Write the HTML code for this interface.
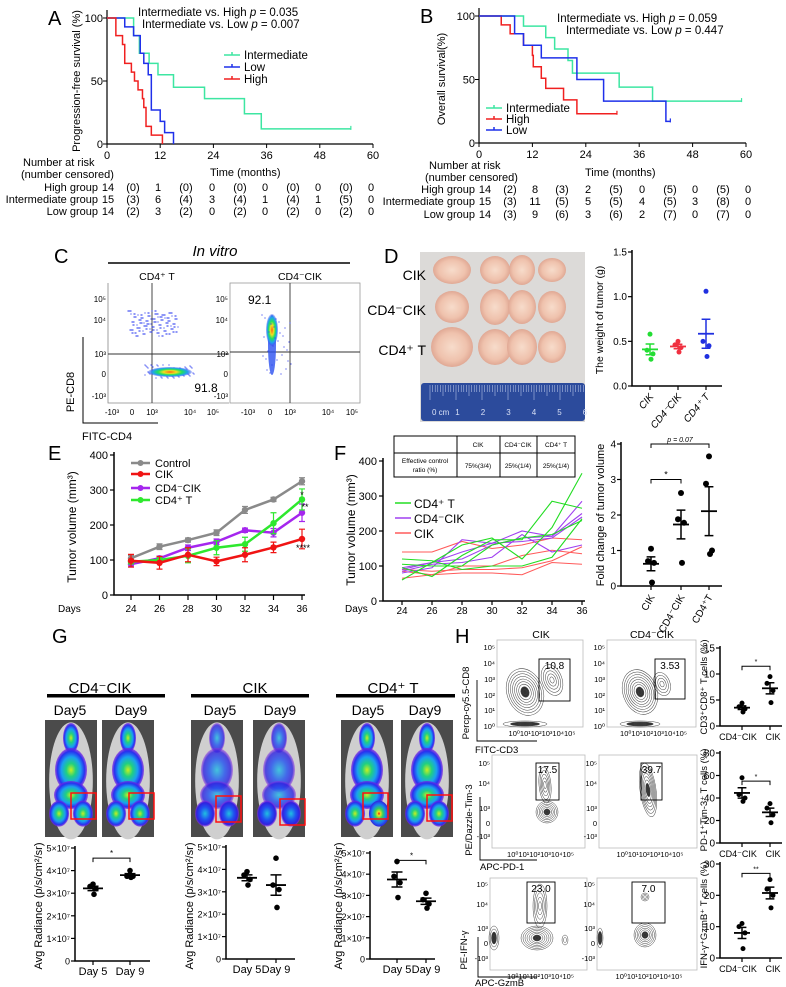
<!DOCTYPE html>
<html><head><meta charset="utf-8">
<style>
html,body{margin:0;padding:0;background:#fff;}
svg{display:block;font-family:"Liberation Sans",Arial,sans-serif;}
</style></head>
<body>
<svg id="fig" width="786" height="987" viewBox="0 0 786 987" xmlns="http://www.w3.org/2000/svg">
<defs>
<radialGradient id="heat"><stop offset="0" stop-color="#c8f020"/><stop offset="0.3" stop-color="#20d080"/><stop offset="0.6" stop-color="#1aa0f0"/><stop offset="0.85" stop-color="#2830f0"/><stop offset="1" stop-color="#7a20e0" stop-opacity="0.7"/></radialGradient>
<radialGradient id="heatlow"><stop offset="0" stop-color="#20c0e0"/><stop offset="0.5" stop-color="#2050f0"/><stop offset="0.85" stop-color="#3020e0"/><stop offset="1" stop-color="#9030e0" stop-opacity="0.6"/></radialGradient>
<radialGradient id="heathot"><stop offset="0" stop-color="#f01010"/><stop offset="0.15" stop-color="#f0e020"/><stop offset="0.4" stop-color="#30d060"/><stop offset="0.7" stop-color="#1a80f0"/><stop offset="1" stop-color="#3020e0"/></radialGradient>
<radialGradient id="flow1"><stop offset="0" stop-color="#ff6010"/><stop offset="0.3" stop-color="#f0e020"/><stop offset="0.55" stop-color="#20e060"/><stop offset="0.8" stop-color="#20a0f0"/><stop offset="1" stop-color="#3040f0" stop-opacity="0.3"/></radialGradient>
<radialGradient id="tumor"><stop offset="0" stop-color="#f7dccb"/><stop offset="0.7" stop-color="#efc2ad"/><stop offset="1" stop-color="#e0a894"/></radialGradient>
</defs>

<g font-size="20">
<text x="48" y="25">A</text>
<text x="420" y="23">B</text>
<text x="54" y="263">C</text>
<text x="384" y="263">D</text>
<text x="48" y="460">E</text>
<text x="334" y="460">F</text>
<text x="52" y="643">G</text>
<text x="455" y="643">H</text>
</g>

<text x="138" y="16" font-size="11.5">Intermediate vs. High <tspan font-style="italic">p</tspan> = 0.035</text>
<text x="142" y="28" font-size="11.5">Intermediate vs. Low <tspan font-style="italic">p</tspan> = 0.007</text>
<text transform="translate(80,81) rotate(-90)" text-anchor="middle" font-size="11">Progression-free survival (%)</text>
<text x="210" y="176" font-size="11">Time (months)</text>
<text x="23" y="166" font-size="11">Number at risk</text>
<text x="21" y="178" font-size="11">(number censored)</text>

<text x="557" y="22" font-size="11.5">Intermediate vs. High <tspan font-style="italic">p</tspan> = 0.059</text>
<text x="566" y="34" font-size="11.5">Intermediate vs. Low <tspan font-style="italic">p</tspan> = 0.447</text>
<text transform="translate(445,79) rotate(-90)" text-anchor="middle" font-size="11">Overall survival(%)</text>
<text x="585" y="176" font-size="11">Time (months)</text>
<text x="429" y="169" font-size="11">Number at risk</text>
<text x="425" y="181" font-size="11">(number censored)</text>

<text x="215" y="256" text-anchor="middle" font-size="15" font-style="italic">In vitro</text>
<line x1="108" y1="263" x2="350" y2="263" stroke="#000" stroke-width="1.5"/>
<text x="157" y="280" text-anchor="middle" font-size="10.5">CD4⁺ T</text>
<text x="300" y="280" text-anchor="middle" font-size="10.5">CD4⁻CIK</text>
<text transform="translate(74,392) rotate(-90)" text-anchor="middle" font-size="11">PE-CD8</text>
<path d="M83 337 V423 H158" fill="none" stroke="#000" stroke-width="1"/>
<text x="82" y="440" font-size="11">FITC-CD4</text>
<g id="panelC"></g>

<g id="panelD"></g>
<text transform="translate(603,320) rotate(-90)" text-anchor="middle" font-size="10.5">The weight of tumor (g)</text>

<text transform="translate(76,527) rotate(-90)" text-anchor="middle" font-size="12">Tumor volume (mm³)</text>
<text x="58" y="612" font-size="10">Days</text>
<g id="panelE"></g>

<text transform="translate(355,530) rotate(-90)" text-anchor="middle" font-size="12">Tumor volume (mm³)</text>
<text x="345" y="612" font-size="10">Days</text>
<g font-size="6.5" text-anchor="middle">
<rect x="394" y="436" width="181" height="41" fill="#fff" stroke="#000" stroke-width="1"/>
<line x1="394" y1="453" x2="575" y2="453" stroke="#000"/>
<line x1="457" y1="436" x2="457" y2="477" stroke="#000"/>
<line x1="500" y1="436" x2="500" y2="477" stroke="#000"/>
<line x1="537" y1="436" x2="537" y2="477" stroke="#000"/>
<text x="478" y="447">CIK</text>
<text x="518" y="447">CD4⁻CIK</text>
<text x="556" y="447">CD4⁺ T</text>
<text x="425" y="463">Effective control</text>
<text x="425" y="472">ratio (%)</text>
<text x="478" y="468">75%(3/4)</text>
<text x="518" y="468">25%(1/4)</text>
<text x="556" y="468">25%(1/4)</text>
</g>
<g id="panelF"></g>
<text transform="translate(604,515) rotate(-90)" text-anchor="middle" font-size="11">Fold change of tumor volume</text>

<g id="panelG"></g>
<g id="panelH"></g>
</svg>

<script>
const kmA_int_t=[0,6,7.3,9.5,11.5,15,22,31,34.8,55];
const kmA_int_s=[100,86,72,64,55,45,36,24,12,12];
const kmA_low_t=[0,4,6,7.5,8.3,9.3,10,12,13,15];
const kmA_low_s=[100,93,86,72,64,55,27,18,9,0];
const kmA_high_t=[0,2,3.5,4,5.5,6.2,7,8,8.3,8.8,10,12.5];
const kmA_high_s=[100,86,79,64,57,50,43,36,29,14,7,0];
const kmB_int_t=[0,10,15,17,20,21,31.5,39,59];
const kmB_int_s=[100,92,83,74,65,55,44,33,33];
const kmB_high_t=[0,5,7,10,12,12.2,14,15,19,22,31];
const kmB_high_s=[100,93,86,77,69,60,51,43,34,23,23];
const kmB_low_t=[0,8,10,14,22,28,42,43];
const kmB_low_s=[100,86,77,67,50,33,17,17];
const kmTicks=[0,12,24,36,48,60];
const survTicks=[0,50,100];
const riskA_high=['14','(0)','1','(0)','0','(0)','0','(0)','0','(0)','0'];
const riskA_int=['15','(3)','6','(4)','3','(4)','1','(4)','1','(5)','0'];
const riskA_low=['14','(2)','3','(2)','0','(2)','0','(2)','0','(2)','0'];
const riskB_high=['14','(2)','8','(3)','2','(5)','0','(5)','0','(5)','0'];
const riskB_int=['15','(3)','11','(5)','5','(5)','4','(5)','3','(8)','0'];
const riskB_low=['14','(3)','9','(6)','3','(6)','2','(7)','0','(7)','0'];
const riskLabels=['High group','Intermediate group','Low group'];
const dW_cik=[0.58,0.40,0.36,0.30];
const dW_cd4cik=[0.50,0.46,0.43,0.38];
const dW_cd4t=[1.06,0.50,0.45,0.33];
const eDays=[24,26,28,30,32,34,36];
const eControl=[105,138,157,178,243,273,325];
const eControlErr=[8,8,6,8,10,6,10];
const eCIK=[98,92,115,96,115,136,160];
const eCIKErr=[18,18,20,12,20,15,28];
const eCD4CIK=[88,105,135,152,185,178,235];
const eCD4CIKErr=[8,6,8,8,6,12,25];
const eCD4T=[95,100,112,135,145,205,273];
const eCD4TErr=[6,6,20,20,20,30,30];
const eTicks=[0,100,200,300,400];
const fDays=[24,26,28,30,32,34,36];
const fGreen1=[120,115,90,100,100,125,235];
const fGreen2=[95,70,130,175,175,285,265];
const fGreen3=[60,110,160,180,120,210,365];
const fGreen4=[105,100,100,160,180,190,230];
const fPurple1=[80,95,175,165,200,185,285];
const fPurple2=[90,110,120,160,180,185,250];
const fPurple3=[85,105,110,125,190,140,160];
const fPurple4=[95,110,140,165,170,180,240];
const fRed1=[140,140,170,150,160,180,175];
const fRed2=[85,75,100,100,130,145,135];
const fRed3=[65,75,80,80,75,110,105];
const fRed4=[90,85,90,90,95,115,155];
const fc_cik=[1.05,0.7,0.65,0.1];
const fc_cd4cik=[2.62,1.88,1.78,0.65];
const fc_cd4t=[3.65,2.88,1.0,0.9];
const g1_d5=[3.4,3.3,3.2,2.95];
const g1_d9=[4.0,3.75,3.75,3.7];
const g2_d5=[3.9,3.75,3.55,3.3];
const g2_d9=[4.5,3.3,3.1,2.3];
const g3_d5=[4.6,3.9,3.6,2.9];
const g3_d9=[3.1,2.8,2.6,2.4];
const gTickLabels=['0','1×10⁷','2×10⁷','3×10⁷','4×10⁷','5×10⁷'];
const h1_cd4cik=[4.4,3.7,3.3,2.7];
const h1_cik=[9.5,8.2,6.8,4.5];
const h2_cd4cik=[58,43,40,37];
const h2_cik=[35,31,25,18];
const h3_cd4cik=[11,10,8,3];
const h3_cik=[25,22,20,16];

const NS='http://www.w3.org/2000/svg';
const svg=document.getElementById('fig');
function mk(tag,a,p){const e=document.createElementNS(NS,tag);for(const k in a)e.setAttribute(k,a[k]);(p||svg).appendChild(e);return e;}
function tx(x,y,s,a,p){const e=mk('text',Object.assign({x:x,y:y},a||{}),p);e.textContent=s;return e;}
function lin(d0,d1,r0,r1){return v=>r0+(v-d0)*(r1-r0)/(d1-d0);}
function mean(a){return a.reduce((s,v)=>s+v,0)/a.length;}
function sem(a){const m=mean(a);return Math.sqrt(a.reduce((s,v)=>s+(v-m)*(v-m),0)/(a.length-1))/Math.sqrt(a.length);}

function kmPanel(id,x0,x1,yTop,yBot,series,legendY,legendX){
  const g=mk('g',{});
  
  
  const xs=lin(0,60,x0,x1), ys=lin(0,100,yBot,yTop);
  const ax=mk('path',{d:`M${x0} ${yTop-8} V${yBot} H${x1}`,fill:'none',stroke:'#000','stroke-width':1.2},g);
  
  
  kmTicks.forEach(t=>{
    const tk=mk('line',{x1:xs(t),x2:xs(t),y1:yBot,y2:yBot+4,stroke:'#000'},g);
    
    
    const lb=tx(xs(t),yBot+15,String(t),{'text-anchor':'middle','font-size':11},g);
    
    
  });
  survTicks.forEach(v=>{
    const tk=mk('line',{x1:x0-4,x2:x0,y1:ys(v),y2:ys(v),stroke:'#000'},g);
    
    
    const lb=tx(x0-4,ys(v)+4,String(v),{'text-anchor':'end','font-size':11},g);
    
    
  });
  series.forEach((s,i)=>{
    let d=`M${xs(s.t[0])} ${ys(s.s[0])}`;
    for(let k=1;k<s.t.length;k++){d+=` H${xs(s.t[k])} V${ys(s.s[k])}`;}
    const p=mk('path',{d:d,fill:'none',stroke:s.c,'stroke-width':1.5},g);
    
    
    const last=s.t.length-1;
    if(s.s[last]>0){
      const cz=mk('line',{x1:xs(s.t[last]),x2:xs(s.t[last]),y1:ys(s.s[last])-3,y2:ys(s.s[last])+1,stroke:s.c,'stroke-width':1.2},g);
      
      
    }
    const ly=legendY[i];
    const ll=mk('path',{d:`M${legendX} ${ly} H${legendX+16} M${legendX+8} ${ly-3} V${ly}`,stroke:s.c,'stroke-width':1.5,fill:'none'},g);
    
    
    const lt=tx(legendX+20,ly+4,s.n,{'font-size':11.5},g);
    
    
  });
}
kmPanel('a',107,373,18,144,[
  {t:kmA_int_t,s:kmA_int_s,c:'#3de6a2',n:'Intermediate'},
  {t:kmA_low_t,s:kmA_low_s,c:'#1f30ea',n:'Low'},
  {t:kmA_high_t,s:kmA_high_s,c:'#f02020',n:'High'}],[55,67,79],224);
kmPanel('b',479,746,16,143,[
  {t:kmB_int_t,s:kmB_int_s,c:'#3de6a2',n:'Intermediate'},
  {t:kmB_high_t,s:kmB_high_s,c:'#f02020',n:'High'},
  {t:kmB_low_t,s:kmB_low_s,c:'#1f30ea',n:'Low'}],[108,119,130],486);

function riskTable(id,labEnd,cols,rowsY,rows){
  rows.forEach((r,ri)=>{
    const lb=tx(labEnd,rowsY[ri],riskLabels[ri],{'text-anchor':'end','font-size':11});
    
    
    r.forEach((v,ci)=>{
      const c=tx(cols[ci],rowsY[ri],v,{'text-anchor':'middle','font-size':11});
      
      
    });
  });
}
riskTable('a',98,[108,133,158,186,212,240,265,293,318,346,371],[191,203,215],[riskA_high,riskA_int,riskA_low]);
riskTable('b',475,[485,510,535,562,588,616,642,670,695,723,748],[193,205,218],[riskB_high,riskB_int,riskB_low]);

(function(){
  const g=document.getElementById('panelC');
  const f1=mk('path',{d:'M108 283 V403 H229',fill:'none',stroke:'#888','stroke-width':0.8},g);
  
  
  const f2=mk('rect',{x:230,y:283,width:130,height:120,fill:'none',stroke:'#999','stroke-width':0.8},g);
  
  
  const gates=[[152,283,152,403],[108,354,229,354],[290,283,290,403],[230,352,360,352]];
  gates.forEach(q=>{
    const l=mk('line',{x1:q[0],y1:q[1],x2:q[2],y2:q[3],stroke:'#333','stroke-width':0.9},g);
    
    
  });
  for(let i=0;i<160;i++){
    const d=mk('circle',{cx:128+((i*37)%48)+((i*7)%5),cy:311+((i*53)%24)+((i*11)%3),r:0.6,fill:'#3040f0'},g);
    
    
  }
  for(let i=0;i<60;i++){
    const d=mk('circle',{cx:145+((i*29)%50),cy:365+((i*17)%14),r:0.6,fill:'#3040f0'},g);
    
    
  }
  const b1=mk('ellipse',{cx:170,cy:372,rx:22,ry:5,fill:'url(#flow1)'},g);
  
  
  const b2=mk('ellipse',{cx:272,cy:345,rx:4,ry:30,fill:'#2a50f0',opacity:0.8},g);
  
  
  const b3=mk('ellipse',{cx:272,cy:330,rx:6,ry:16,fill:'url(#flow1)'},g);
  
  
  for(let i=0;i<30;i++){
    const d=mk('circle',{cx:262+((i*13)%30),cy:315+((i*23)%60),r:0.6,fill:'#3040f0'},g);
    
    
  }
  const t1=tx(206,392,'91.8',{'text-anchor':'middle','font-size':12},g);
  
  
  const t2=tx(248,304,'92.1',{'font-size':12},g);
  
  
  const yl=[['10⁵',299],['10⁴',320],['10³',354],['0',374],['-10³',396]];
  [[106,yl],[228,yl]].forEach(p=>{
    p[1].forEach(t=>{
      const e=tx(p[0],t[1]+3,t[0],{'text-anchor':'end','font-size':8},g);
      
      
    });
  });
  const xl=['-10³','0','10³','10⁴','10⁵'];
  [[112,132,152,190,213],[248,270,290,328,352]].forEach(xsArr=>{
    xsArr.forEach((x,i)=>{
      const e=tx(x,415,xl[i],{'text-anchor':'middle','font-size':8},g);
      
      
    });
  });
})();

function dotChart(o){
  const g=mk('g',{},o.parent);
  
  
  const ys=lin(o.vmin,o.vmax,o.y0,o.y1);
  const ax=mk('path',{d:`M${o.x0} ${o.y1-2} V${o.y0} H${o.x1}`,fill:'none',stroke:'#000','stroke-width':1.5},g);
  
  
  o.ticks.forEach((v,i)=>{
    const tk=mk('line',{x1:o.x0-4,x2:o.x0,y1:ys(v),y2:ys(v),stroke:'#000','stroke-width':1.2},g);
    
    
    const lb=tx(o.x0-5,ys(v)+3.5,o.tickLabels[i],{'text-anchor':'end','font-size':o.fs||10},g);
    
    
  });
  const jit=[0,-3,3,1];
  o.cats.forEach(c=>{
    const tk=mk('line',{x1:c.x,x2:c.x,y1:o.y0,y2:o.y0+4,stroke:'#000','stroke-width':1.2},g);
    
    
    c.vals.forEach((v,i)=>{
      const d=mk('circle',{cx:c.x+jit[i],cy:ys(v),r:o.r||2.8,fill:c.color},g);
      
      
    });
    const m=mean(c.vals),s=sem(c.vals),w=o.mw||9;
    const ml=mk('line',{x1:c.x-w,x2:c.x+w,y1:ys(m),y2:ys(m),stroke:c.color,'stroke-width':1.8},g);
    
    
    const el=mk('path',{d:`M${c.x} ${ys(m+s)} V${ys(m-s)} M${c.x-w*0.55} ${ys(m+s)} H${c.x+w*0.55} M${c.x-w*0.55} ${ys(m-s)} H${c.x+w*0.55}`,stroke:c.color,'stroke-width':1.5,fill:'none'},g);
    
    
    if(o.rot){
      const lb=tx(c.x+4,o.y0+11,c.label,{'text-anchor':'end','font-size':o.lfs||10,transform:`rotate(${o.rot} ${c.x+4} ${o.y0+11})`,'font-style':o.italic?'italic':'normal'},g);
      
      
    } else {
      const lb=tx(c.x+(c.lx||0),o.y0+14,c.label,{'text-anchor':'middle','font-size':o.lfs||10},g);
      
      
    }
  });
  if(o.brackets){o.brackets.forEach(b=>{
    const y=ys(b.v);
    const p=mk('path',{d:`M${o.cats[b.a].x} ${y+4} V${y} H${o.cats[b.b].x} V${y+4}`,fill:'none',stroke:'#000','stroke-width':1},g);
    
    
    const t=tx((o.cats[b.a].x+o.cats[b.b].x)/2,y-2,b.t,{'text-anchor':'middle','font-size':b.fs||8,'font-style':b.it?'italic':'normal'},g);
    
    
  });}
  return g;
}

(function(){
  const g=document.getElementById('panelD');
  const ph=mk('rect',{x:420,y:252,width:165,height:170,fill:'#dcdad8'},g);
  
  
  const rows=[270,307,347], cols=[452,495,522,552];
  const rx=[[19,15,13,14],[17,15,14,14],[21,17,15,14]], ry=[[14,14,15,12],[16,18,17,16],[20,18,18,16]];
  rows.forEach((y,ri)=>cols.forEach((x,ci)=>{
    const t=mk('ellipse',{cx:x,cy:y,rx:rx[ri][ci],ry:ry[ri][ci],fill:'url(#tumor)'},g);
    
    
  }));
  const ru=mk('rect',{x:421,y:383,width:164,height:38,rx:3,fill:'#2c4b9c'},g);
  
  
  for(let i=0;i<60;i++){
    const tk=mk('line',{x1:430+i*2.6,x2:430+i*2.6,y1:385,y2:i%10==0?400:(i%5==0?396:392),stroke:'#c8d4f0','stroke-width':0.5},g);
    
    
  }
  ['0 cm','1','2','3','4','5','6'].forEach((s,i)=>{
    const t=tx(432+i*25.5,415,s,{'font-size':8,fill:'#d8e0f6','text-anchor':i==0?'start':'middle'},g);
    
    
  });
  [['CIK',280],['CD4⁻CIK',315],['CD4⁺ T',355]].forEach(l=>{
    const t=tx(426,l[1],l[0],{'text-anchor':'end','font-size':14},g);
    
    
  });
  dotChart({parent:g,name:'tumor-weight-chart',x0:632,x1:722,y0:386,y1:252,vmin:0,vmax:1.5,
    ticks:[0,0.5,1,1.5],tickLabels:['0.0','0.5','1.0','1.5'],rot:-50,italic:true,lfs:10,mw:8,r:2.5,
    cats:[{x:650,vals:dW_cik,color:'#22dd33',key:'cik',label:'CIK'},
          {x:678,vals:dW_cd4cik,color:'#f03040',key:'cd4-cik',label:'CD4⁻CIK'},
          {x:706,vals:dW_cd4t,color:'#2030e0',key:'cd4t',label:'CD4⁺ T'}]});
})();

(function(){
  const g=document.getElementById('panelE');
  const xs=lin(24,36,131,302), ys=lin(0,400,595,455);
  const ax=mk('path',{d:'M114 452 V595 H305',fill:'none',stroke:'#000','stroke-width':1.5},g);
  
  
  eTicks.forEach(v=>{
    const tk=mk('line',{x1:110,x2:114,y1:ys(v),y2:ys(v),stroke:'#000','stroke-width':1.2},g);
    
    
    const lb=tx(108,ys(v)+4,String(v),{'text-anchor':'end','font-size':11},g);
    
    
  });
  eDays.forEach(d=>{
    const tk=mk('line',{x1:xs(d),x2:xs(d),y1:595,y2:600,stroke:'#000','stroke-width':1.2},g);
    
    
    const lb=tx(xs(d),612,String(d),{'text-anchor':'middle','font-size':10},g);
    
    
  });
  const series=[
    {v:eControl,e:eControlErr,c:'#8a8a8a',n:'Control',k:'control'},
    {v:eCD4CIK,e:eCD4CIKErr,c:'#a526ee',n:'CD4⁻CIK',k:'cd4-cik'},
    {v:eCD4T,e:eCD4TErr,c:'#2ee82e',n:'CD4⁺ T',k:'cd4t'},
    {v:eCIK,e:eCIKErr,c:'#f01414',n:'CIK',k:'cik'}];
  series.forEach(s=>{
    s.v.forEach((v,i)=>{
      const eb=mk('path',{d:`M${xs(eDays[i])} ${ys(v+s.e[i])} V${ys(v-s.e[i])} M${xs(eDays[i])-3} ${ys(v+s.e[i])} H${xs(eDays[i])+3} M${xs(eDays[i])-3} ${ys(v-s.e[i])} H${xs(eDays[i])+3}`,stroke:s.c,'stroke-width':1.2,fill:'none'},g);
      
      
    });
    const l=mk('polyline',{points:s.v.map((v,i)=>xs(eDays[i])+','+ys(v)).join(' '),fill:'none',stroke:s.c,'stroke-width':2.5},g);
    
    
    s.v.forEach((v,i)=>{
      const p=mk('circle',{cx:xs(eDays[i]),cy:ys(v),r:3.2,fill:s.c},g);
      
      
    });
  });
  const leg=[['Control','#8a8a8a',463],['CIK','#f01414',474],['CD4⁻CIK','#a526ee',488],['CD4⁺ T','#2ee82e',500]];
  leg.forEach(l=>{
    const sw=mk('line',{x1:131,x2:150,y1:l[2],y2:l[2],stroke:l[1],'stroke-width':2.5},g);
    
    
    const dt=mk('circle',{cx:140.5,cy:l[2],r:3,fill:l[1]},g);
    
    
    const t=tx(155,l[2]+4,l[0],{'font-size':11},g);
    
    
  });
  [['*',302,498],['**',305,510],['****',303,551]].forEach(s=>{
    const t=tx(s[1],s[2],s[0],{'text-anchor':'middle','font-size':9},g);
    
    
  });
})();

(function(){
  const g=document.getElementById('panelF');
  const xs=lin(24,36,402,582), ys=lin(0,400,601,461);
  const ax=mk('path',{d:'M383 458 V601 H585',fill:'none',stroke:'#000','stroke-width':1.5},g);
  
  
  eTicks.forEach(v=>{
    const tk=mk('line',{x1:379,x2:383,y1:ys(v),y2:ys(v),stroke:'#000','stroke-width':1.2},g);
    
    
    const lb=tx(377,ys(v)+4,String(v),{'text-anchor':'end','font-size':11},g);
    
    
  });
  fDays.forEach(d=>{
    const tk=mk('line',{x1:xs(d),x2:xs(d),y1:601,y2:605,stroke:'#000','stroke-width':1.2},g);
    
    
    const lb=tx(xs(d),614,String(d),{'text-anchor':'middle','font-size':10},g);
    
    
  });
  const ser=[[fRed1,'#ff5a5a','cik'],[fRed2,'#ff5a5a','cik'],[fRed3,'#ff5a5a','cik'],[fRed4,'#ff5a5a','cik'],
    [fPurple1,'#a040f0','cd4-cik'],[fPurple2,'#a040f0','cd4-cik'],[fPurple3,'#a040f0','cd4-cik'],[fPurple4,'#a040f0','cd4-cik'],
    [fGreen1,'#22dd22','cd4t'],[fGreen2,'#22dd22','cd4t'],[fGreen3,'#22dd22','cd4t'],[fGreen4,'#22dd22','cd4t']];
  ser.forEach(s=>{
    const l=mk('polyline',{points:s[0].map((v,i)=>xs(fDays[i])+','+ys(v)).join(' '),fill:'none',stroke:s[1],'stroke-width':1.1},g);
    
    
  });
  [['CD4⁺ T','#22dd22',503],['CD4⁻CIK','#a040f0',518],['CIK','#ff5a5a',533]].forEach(l=>{
    const sw=mk('line',{x1:395,x2:411,y1:l[2],y2:l[2],stroke:l[1],'stroke-width':1.5},g);
    
    
    const t=tx(414,l[2]+5,l[0],{'font-size':12},g);
    
    
  });
  dotChart({parent:g,name:'fold-change-chart',x0:621,x1:722,y0:586,y1:444,vmin:0,vmax:4,
    ticks:[0,1,2,3,4],tickLabels:['0','1','2','3','4'],rot:-60,lfs:10,mw:8,r:3,
    cats:[{x:651,vals:fc_cik,color:'#000',key:'cik',label:'CIK'},
          {x:681,vals:fc_cd4cik,color:'#000',key:'cd4-cik',label:'CD4⁻CIK'},
          {x:709,vals:fc_cd4t,color:'#000',key:'cd4t',label:'CD4⁺T'}],
    brackets:[{a:0,b:1,v:3.0,t:'*',fs:9},{a:0,b:2,v:4.0,t:'p = 0.07',fs:7,it:true}]});
})();

(function(){
  const g=document.getElementById('panelG');
  const heads=[['CD4⁻CIK',100,47,165],['CIK',255,191,309],['CD4⁺ T',393,336,455]];
  heads.forEach(h=>{
    const t=tx(h[1],693,h[0],{'text-anchor':'middle','font-size':15},g);
    
    
    const b=mk('rect',{x:h[2],y:694,width:h[3]-h[2],height:3.5,fill:'#000'},g);
    
    
  });
  [[70,'Day5'],[131,'Day9'],[220,'Day5'],[280,'Day9'],[368,'Day5'],[425,'Day9']].forEach(d=>{
    const t=tx(d[0],715,d[1],{'text-anchor':'middle','font-size':14},g);
    
    
  });
  const imgs=[[45,'heat',[71,793]],[102,'heat',[129,793]],[191,'heatlow',[216,796]],[253,'heatlow',[280,799]],[341,'heat',[363,793]],[401,'heat',[427,795]]];
  imgs.forEach((im,idx)=>{
    const x=im[0],y=720,w=52,h=117,cx=x+w/2;
    const bg=mk('rect',{x:x,y:y,width:w,height:h,fill:'#4b4b4b'},g);
    
    
    const body=mk('ellipse',{cx:cx,cy:y+h*0.52,rx:w*0.42,ry:h*0.5,fill:'#cfcfcf'},g);
    
    
    const blobs=[[cx,y+18,8,15],[cx,y+50,16,22],[cx,y+75,17,14],[x+w*0.27,y+h*0.8,10,13],[x+w*0.73,y+h*0.8,10,13]];
    blobs.forEach((b,bi)=>{
      const fill=(idx==4&&bi==4)?'url(#heathot)':'url(#'+im[1]+')';
      const e=mk('ellipse',{cx:b[0],cy:b[1],rx:b[2],ry:b[3],fill:fill,opacity:im[1]=='heatlow'&&bi<3?0.8:1},g);
      
      
    });
    const rb=mk('rect',{x:im[2][0],y:im[2][1],width:25,height:26,fill:'none',stroke:'#ff1010','stroke-width':1.5},g);
    
    
  });
  const cfgs=[[75,150,961,848,g1_d5,g1_d9,93,130,4.55,'radiance-chart-cd4-cik'],[226,295,959,847,g2_d5,g2_d9,247,276,null,'radiance-chart-cik'],[370,435,959,853,g3_d5,g3_d9,397,426,4.65,'radiance-chart-cd4t']];
  cfgs.forEach(c=>{
    dotChart({parent:g,name:c[9],x0:c[0],x1:c[1],y0:c[2],y1:c[3],vmin:0,vmax:5,ticks:[0,1,2,3,4,5],tickLabels:gTickLabels,fs:9,lfs:11,mw:10,r:2.8,
      cats:[{x:c[6],vals:c[4],color:'#000',key:'day5',label:'Day 5'},{x:c[7],vals:c[5],color:'#000',key:'day9',label:'Day 9'}],
      brackets:c[8]?[{a:0,b:1,v:c[8],t:'*',fs:8}]:null});
  });
  [42,193,342].forEach(x=>{
    const t=tx(0,0,'Avg Radiance (p/s/cm²/sr)',{'text-anchor':'middle','font-size':11,transform:`translate(${x},906) rotate(-90)`},g);
    
    
  });
})();

(function(){
  const g=document.getElementById('panelH');
  const tt=[['CIK',541],['CD4⁻CIK',652]];
  tt.forEach(t=>{
    const e=tx(t[1],638,t[0],{'text-anchor':'middle','font-size':10.5},g);
    
    
  });
  function contour(cx,cy,rx,ry,n,rot,dark){
    for(let i=n;i>=1;i--){
      const e=mk('ellipse',{cx:cx,cy:cy,rx:rx*i/n,ry:ry*i/n,fill:i<=2&&dark?'#333':'none',stroke:'#444','stroke-width':0.5,transform:`rotate(${rot} ${cx} ${cy})`},g);
      
      
    }
  }
  const rowsCfg=[
    {y0:640,y1:727,frames:[[497,583],[607,696]],gates:[[539,659,31,42,'10.8'],[655,659,30,40,'3.53']],
      yt:[['10⁵',647],['10⁴',663],['10³',679],['10²',695],['10¹',710],['10⁰',726]],xl:'10⁰10¹10²10³10⁴10⁵'},
    {y0:755,y1:848,frames:[[492,585],[599,697]],gates:[[536,763,23,37,'17.5'],[641,763,21,37,'39.7']],
      yt:[['10⁵',763],['10⁴',783],['10³',808],['0',823],['-10³',836]],xl:'10⁰10¹10²10³10⁴10⁵'},
    {y0:878,y1:970,frames:[[490,587],[597,697]],gates:[[527,882,28,41,'23.0'],[632,882,33,41,'7.0']],
      yt:[['10⁵',884],['10⁴',904],['10³',928],['0',943],['-10³',958]],xl:'10⁰10¹10²10³10⁴10⁵'}];
  rowsCfg.forEach((r,ri)=>{
    r.frames.forEach((f,fi)=>{
      const fr=mk('rect',{x:f[0],y:r.y0,width:f[1]-f[0],height:r.y1-r.y0,fill:'none',stroke:'#bbb','stroke-width':0.8},g);
      
      
      r.yt.forEach(t=>{
        const e=tx(f[0]-2,t[1]+3,t[0],{'text-anchor':'end','font-size':7.5},g);
        
        
      });
      const xe=tx((f[0]+f[1])/2+2,r.y1+9,r.xl,{'text-anchor':'middle','font-size':7.5},g);
      
      
    });
  });
  contour(525,692,18,24,9,-20,true); contour(552,680,10,16,5,-20,false); contour(525,724,22,3,3,0,true);
  contour(640,692,17,23,9,-20,true); contour(662,684,8,12,4,-20,false); contour(640,724,20,3,3,0,true);
  contour(547,812,11,11,7,0,true); contour(545,785,6,18,5,-5,false);
  contour(648,790,8,27,8,-8,true);
  contour(537,938,16,12,8,0,true); contour(540,906,7,22,5,0,false); contour(494,938,5,12,4,0,true); contour(565,940,3,5,2,0,false);
  contour(645,935,11,12,7,0,true); contour(645,897,4,4,3,0,false); contour(600,938,3,10,3,0,true);
  rowsCfg.forEach(r=>{
    r.gates.forEach(q=>{
      const b=mk('rect',{x:q[0],y:q[1],width:q[2],height:q[3],fill:'none',stroke:'#000','stroke-width':0.9},g);
      
      
      const t=tx(q[0]+q[2]/2,q[1]+10,q[4],{'text-anchor':'middle','font-size':10},g);
      
      
    });
  });
  const axes=[['Percp-cy5.5-CD8',469,703,'M477 680 V741 H537','FITC-CD3',475,753],
              ['PE/Dazzle-Tim-3',472,820,'M480 797 V860 H537','APC-PD-1',480,870],
              ['PE-IFN-γ',467,950,'M478 937 V977 H537','APC-GzmB',475,986]];
  axes.forEach(a=>{
    const yl=tx(0,0,a[0],{'text-anchor':'middle','font-size':9.5,transform:`translate(${a[1]},${a[2]}) rotate(-90)`},g);
    
    
    const p=mk('path',{d:a[3],fill:'none',stroke:'#000','stroke-width':0.9},g);
    
    
    const xl=tx(a[5],a[6],a[4],{'font-size':9.5},g);
    
    
  });
  const sm=[[726,648,0,15,[0,5,10,15],h1_cd4cik,h1_cik,11.5,'*','cd3-cd8-chart','CD3⁺CD8⁺ T cells (%)',687],
            [843,753,0,80,[0,20,40,60,80],h2_cd4cik,h2_cik,55,'*','pd1-tim3-chart','PD-1⁺Tim-3⁺ T cells (%)',800],
            [958,864,0,30,[0,10,20,30],h3_cd4cik,h3_cik,27,'**','ifng-gzmb-chart','IFN-γ⁺GzmB⁺ T cells (%)',915]];
  sm.forEach(s=>{
    dotChart({parent:g,name:s[9],x0:720,x1:782,y0:s[0],y1:s[1],vmin:s[2],vmax:s[3],ticks:s[4],tickLabels:s[4].map(String),fs:10,lfs:9,mw:8,r:2.5,
      cats:[{x:742,lx:-4,vals:s[5],color:'#000',key:'cd4-cik',label:'CD4⁻CIK'},{x:770,lx:3,vals:s[6],color:'#000',key:'cik',label:'CIK'}],
      brackets:[{a:0,b:1,v:s[7],t:s[8],fs:7}]});
    const yl=tx(0,0,s[10],{'text-anchor':'middle','font-size':9.5,transform:`translate(707,${s[11]}) rotate(-90)`},g);
    
    
  });
})();
</script>
</body></html>
